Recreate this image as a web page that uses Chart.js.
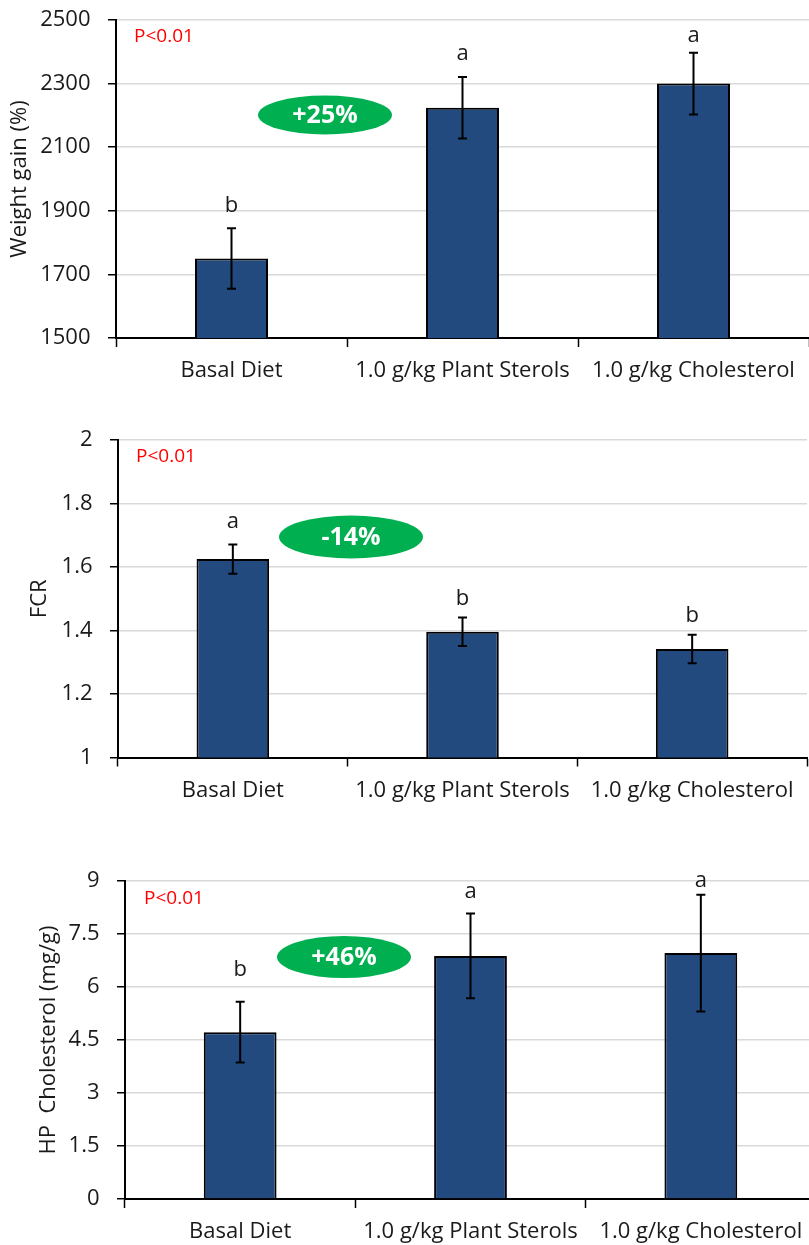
<!DOCTYPE html>
<html>
<head>
<meta charset="utf-8">
<script src="https://cdn.jsdelivr.net/npm/chart.js@4.4.1/dist/chart.umd.min.js"></script>
<style>
  html, body { margin: 0; padding: 0; background: #fff; }
  body { position: relative; width: 809px; height: 1245px; overflow: hidden; }
  canvas { position: absolute; left: 0; }
</style>
</head>
<body>
<script>
// treatments shared by all three panels
const categories = ['Basal Diet', '1.0 g/kg Plant Sterols', '1.0 g/kg Cholesterol'];

// weight gain (%), mean and SE
const weightGain = [1750, 2224, 2300];
const weightGainErr = [95, 97, 97];
const weightGainLetters = ['b', 'a', 'a'];
const weightGainTicks = ['1500', '1700', '1900', '2100', '2300', '2500'];

// feed conversion ratio
const fcr = [1.625, 1.396, 1.342];
const fcrErr = [0.046, 0.045, 0.045];
const fcrLetters = ['a', 'b', 'b'];
const fcrTicks = ['1', '1.2', '1.4', '1.6', '1.8', '2'];

// hepatopancreas cholesterol (mg/g)
const hpChol = [4.72, 6.88, 6.96];
const hpCholErr = [0.86, 1.2, 1.65];
const hpCholLetters = ['b', 'a', 'a'];
const hpCholTicks = ['0', '1.5', '3', '4.5', '6', '7.5', '9'];

const BAR = '#224A7E';
const GREEN = '#00B050';
const TEXT = '#1a1a1a';
const FONT = 'Open Sans';

function makePanel(p) {
  const canvas = document.createElement('canvas');
  canvas.width = p.width;
  canvas.height = p.height;
  canvas.style.top = p.top + 'px';
  canvas.style.width = p.width + 'px';
  canvas.style.height = p.height + 'px';
  document.body.appendChild(canvas);

  // error bars, significance letters, p-value and change badge
  const marks = {
    id: 'marks',
    afterDatasetsDraw(chart) {
      const ctx = chart.ctx;
      const y = chart.scales.y;
      const area = chart.chartArea;
      const bars = chart.getDatasetMeta(0).data;
      ctx.save();
      bars.forEach((bar, i) => {
        const top = y.getPixelForValue(p.values[i] + p.errors[i]);
        const bot = y.getPixelForValue(p.values[i] - p.errors[i]);
        ctx.strokeStyle = '#000';
        ctx.lineWidth = 2;
        ctx.beginPath();
        ctx.moveTo(bar.x, top); ctx.lineTo(bar.x, bot);
        ctx.moveTo(bar.x - 4.5, top); ctx.lineTo(bar.x + 4.5, top);
        ctx.moveTo(bar.x - 4.5, bot); ctx.lineTo(bar.x + 4.5, bot);
        ctx.stroke();

        ctx.fillStyle = TEXT;
        ctx.font = `22px "${FONT}"`;
        ctx.textAlign = 'center';
        ctx.textBaseline = 'alphabetic';
        ctx.fillText(p.letters[i], bar.x, top - p.letterLift[i]);
      });

      ctx.fillStyle = '#FF0000';
      ctx.font = `19px "${FONT}"`;
      ctx.textAlign = 'left';
      ctx.textBaseline = 'middle';
      ctx.fillText('P<0.01', area.left + p.pLabel[0], area.top + p.pLabel[1]);

      const b = p.badge;
      ctx.fillStyle = GREEN;
      ctx.beginPath();
      ctx.ellipse(area.left + b.x, area.top + b.y, b.w / 2, b.h / 2, 0, 0, Math.PI * 2);
      ctx.fill();
      ctx.fillStyle = '#fff';
      ctx.font = `bold 25px "${FONT}"`;
      ctx.textAlign = 'center';
      ctx.textBaseline = 'middle';
      ctx.fillText(b.text, area.left + b.x, area.top + b.y + 1);
      ctx.restore();
    }
  };

  new Chart(canvas, {
    type: 'bar',
    data: {
      labels: categories,
      datasets: [{
        data: p.values,
        backgroundColor: BAR,
        borderColor: '#000',
        borderWidth: 2,
        barPercentage: 0.316,
        categoryPercentage: 1
      }]
    },
    options: {
      responsive: false,
      animation: false,
      devicePixelRatio: 1,
      layout: { padding: { top: p.padTop, right: p.padRight, left: 0, bottom: 0 } },
      plugins: { legend: { display: false }, tooltip: { enabled: false } },
      scales: {
        x: {
          grid: { drawOnChartArea: false, drawTicks: true, tickLength: 9, tickColor: '#000', tickWidth: 1.5, offset: true },
          border: { color: '#000', width: 2 },
          ticks: { font: { family: FONT, size: 22 }, color: TEXT, padding: 11, autoSkip: false, maxRotation: 0 },
          afterFit(s) {
            s.height = p.xHeight;
            s.paddingLeft = 0;
            s.paddingRight = 0;
          }
        },
        y: {
          min: p.min,
          max: p.max,
          ticks: {
            stepSize: p.step,
            font: { family: FONT, size: 22 },
            color: TEXT,
            padding: 17.5,
            callback: (v, i) => p.ticks[i]
          },
          grid: { color: '#d9d9d9', lineWidth: 1.5, tickLength: 8, tickColor: '#000', tickWidth: 1.5 },
          border: { color: '#000', width: 2 },
          title: {
            display: true,
            text: p.title,
            font: { family: FONT, size: 22 },
            color: TEXT,
            padding: { top: p.titlePad, bottom: 0 }
          },
          afterFit(s) {
            s.width = p.yWidth;
            s.paddingTop = 0;
            s.paddingBottom = 0;
          }
        }
      }
    },
    plugins: [marks]
  });
}

makePanel({
  top: 0, width: 809, height: 395, padTop: 20, padRight: 0, xHeight: 57, yWidth: 116, titlePad: 7,
  values: weightGain, errors: weightGainErr, letters: weightGainLetters, letterLift: [16, 17, 11],
  min: 1500, max: 2500, step: 200, ticks: weightGainTicks, title: 'Weight gain (%)',
  pLabel: [18, 17], badge: { x: 209, y: 95, w: 134, h: 39, text: '+25%' }
});

makePanel({
  top: 420, width: 809, height: 395, padTop: 20, padRight: 2, xHeight: 57.5, yWidth: 118, titlePad: 27,
  values: fcr, errors: fcrErr, letters: fcrLetters, letterLift: [16, 12, 13],
  min: 1, max: 2, step: 0.2, ticks: fcrTicks, title: 'FCR',
  pLabel: [18, 17], badge: { x: 233, y: 97, w: 144, h: 43, text: '-14%' }
});

makePanel({
  top: 860, width: 816, height: 385, padTop: 21, padRight: 0, xHeight: 46, yWidth: 125, titlePad: 36,
  values: hpChol, errors: hpCholErr, letters: hpCholLetters, letterLift: [26, 16, 8],
  min: 0, max: 9, step: 1.5, ticks: hpCholTicks, title: 'HP  Cholesterol (mg/g)',
  pLabel: [19, 18], badge: { x: 219, y: 76, w: 134, h: 42, text: '+46%' }
});
</script>
</body>
</html>
